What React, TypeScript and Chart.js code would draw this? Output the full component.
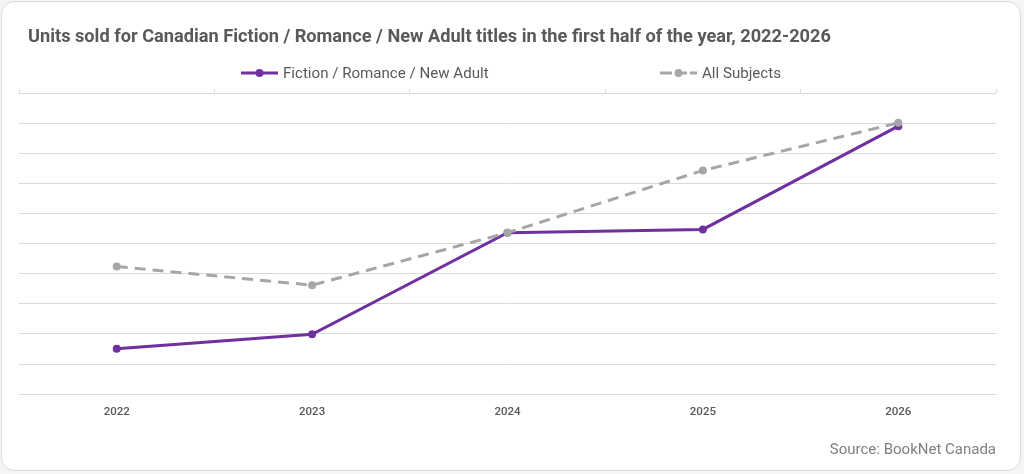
import { FC, useEffect, useRef } from "react";
import { Chart, registerables } from "chart.js";

Chart.register(...registerables);

// Relative units sold (the original chart hides its value axis)
const years = ["2022", "2023", "2024", "2025", "2026"];
const fictionRomanceNewAdult = [1.51, 1.99, 5.36, 5.47, 8.9];
const allSubjects = [4.24, 3.62, 5.36, 7.43, 9.01];
const seriesNames = ["Fiction / Romance / New Adult", "All Subjects"];
const chartTitle =
  "Units sold for Canadian Fiction / Romance / New Adult titles in the first half of the year, 2022-2026";
const sourceNote = "Source: BookNet Canada";

const PURPLE = "#7030A0";
const GREY = "#A6A6A6";
const GRID = "#D9D9D9";
const TEXT = "#595959";
const FONT = "Roboto, 'Noto Sans', sans-serif";

type markProps = { color: string; dashed?: boolean };

const LegendMark: FC<markProps> = ({ color, dashed }) => (
  <svg width={37} height={10} style={{ display: "block" }}>
    <line
      x1={0}
      y1={5}
      x2={37}
      y2={5}
      stroke={color}
      strokeWidth={3}
      strokeDasharray={dashed ? "12 3" : undefined}
    />
    <circle cx={18.5} cy={5} r={4} fill={color} />
  </svg>
);

const App: FC = () => {
  const canvasRef = useRef<HTMLCanvasElement | null>(null);

  useEffect(() => {
    if (!canvasRef.current) return;
    const ctx = canvasRef.current.getContext("2d");
    if (!ctx) return;

    const chart = new Chart(ctx, {
      type: "line",
      data: {
        labels: years,
        datasets: [
          {
            label: seriesNames[0],
            data: fictionRomanceNewAdult,
            borderColor: PURPLE,
            backgroundColor: PURPLE,
            borderWidth: 3,
            pointRadius: 4,
            pointBorderWidth: 0,
            pointBackgroundColor: PURPLE,
            tension: 0,
            order: 1,
          },
          {
            label: seriesNames[1],
            data: allSubjects,
            borderColor: GREY,
            backgroundColor: GREY,
            borderWidth: 3,
            borderDash: [11, 7],
            pointRadius: 4,
            pointBorderWidth: 0,
            pointBackgroundColor: GREY,
            tension: 0,
            order: 0,
          },
        ],
      },
      options: {
        animation: false,
        responsive: true,
        maintainAspectRatio: false,
        layout: { padding: { left: 19, right: 28, top: 89, bottom: 15 } },
        plugins: {
          legend: { display: false },
          tooltip: { enabled: false },
          title: { display: false },
          subtitle: {
            display: true,
            text: sourceNote,
            position: "bottom",
            align: "end",
            color: "#7F7F7F",
            font: { family: FONT, size: 15 },
            padding: { top: 11, bottom: 0 },
          },
        },
        scales: {
          x: {
            offset: true,
            grid: { display: false, drawTicks: false },
            border: { display: false },
            ticks: {
              color: TEXT,
              padding: 11,
              font: { family: FONT, size: 11.5, weight: 500 },
            },
          },
          xTop: {
            type: "category",
            labels: years,
            position: "top",
            offset: true,
            grid: {
              offset: true,
              drawOnChartArea: false,
              tickLength: 4,
              color: GRID,
            },
            border: { display: false },
            ticks: { display: false },
          },
          y: {
            min: 0,
            max: 10,
            ticks: { display: false, stepSize: 1 },
            grid: { color: GRID, drawTicks: false },
            border: { display: false },
          },
        },
      },
    });

    return () => {
      chart.destroy();
    };
  }, []);

  return (
    <div
      style={{
        position: "relative",
        width: 1024,
        height: 474,
        background: "#F5F5F5",
        fontFamily: FONT,
      }}
    >
      <style>{"body{margin:0}"}</style>
      <div
        style={{
          position: "absolute",
          left: 1,
          top: 1,
          width: 1020,
          height: 470,
          boxSizing: "border-box",
          border: "1px solid #DADADA",
          borderRadius: 14,
          background: "#FFFFFF",
        }}
      />
      <div style={{ position: "absolute", inset: 0 }}>
        <canvas ref={canvasRef}></canvas>
      </div>
      <div
        style={{
          position: "absolute",
          left: 28,
          top: 25,
          lineHeight: "22px",
          fontSize: 18.2,
          fontWeight: 700,
          color: TEXT,
          whiteSpace: "nowrap",
        }}
      >
        {chartTitle}
      </div>
      {[
        { name: seriesNames[0], color: PURPLE, dashed: false, left: 241 },
        { name: seriesNames[1], color: GREY, dashed: true, left: 660 },
      ].map((item) => (
        <div
          key={item.name}
          style={{
            position: "absolute",
            left: item.left,
            top: 64,
            height: 18,
            display: "flex",
            alignItems: "center",
            gap: 5,
            fontSize: 15.1,
            color: TEXT,
            whiteSpace: "nowrap",
          }}
        >
          <LegendMark color={item.color} dashed={item.dashed} />
          <span>{item.name}</span>
        </div>
      ))}
    </div>
  );
};

export default App;
